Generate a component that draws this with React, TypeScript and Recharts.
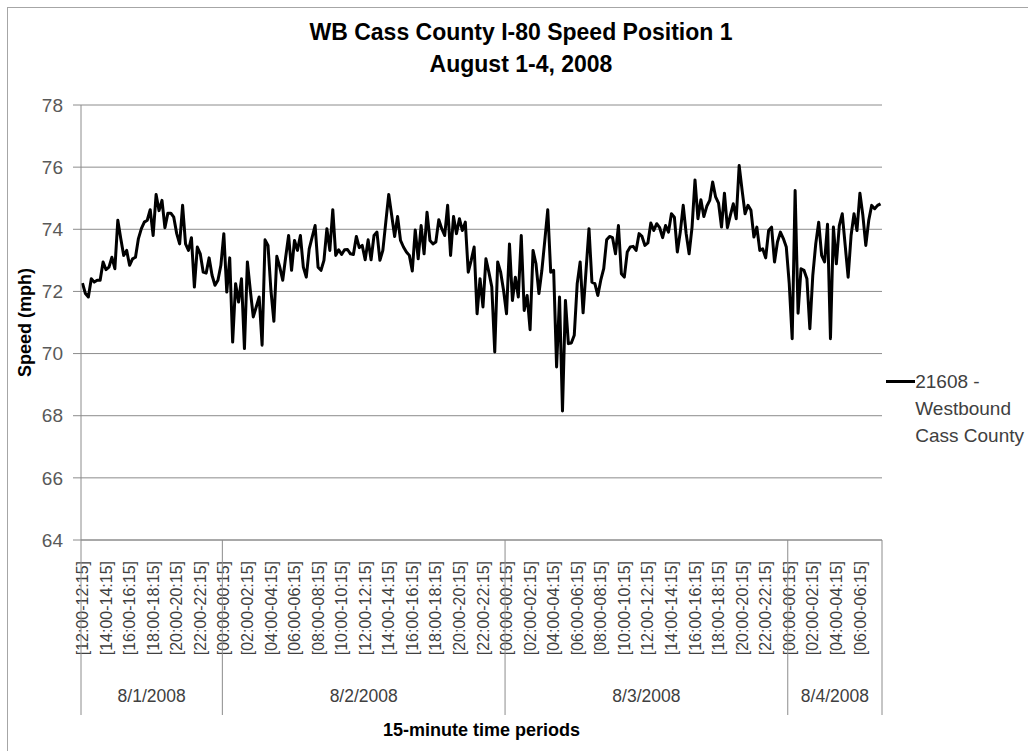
import { LineChart, Line, XAxis, YAxis, CartesianGrid, Legend } from 'recharts'

const dates = ['8/1/2008', '8/2/2008', '8/3/2008', '8/4/2008']
const dayStartHours = [12, 0, 0, 0]

// average speed (mph) per 15-minute period, one array per day
const aug1 = [
  72.27, 71.93, 71.82, 72.41, 72.3, 72.36, 72.36, 72.95, 72.7, 72.78,
  73.1, 72.73, 74.29, 73.7, 73.16, 73.32, 72.84, 73.05, 73.1, 73.7,
  74.02, 74.23, 74.29, 74.63, 73.8, 75.12, 74.6, 74.93, 74.05, 74.52,
  74.52, 74.39, 73.86, 73.53, 74.77, 73.53, 73.32, 73.73, 72.14, 73.43,
  73.21, 72.62, 72.59, 73.08, 72.52, 72.2, 72.36, 72.84,
]
const aug2 = [
  73.86, 71.98, 73.08, 70.37, 72.25, 71.66, 72.41, 70.16, 72.95, 72.03,
  71.18, 71.5, 71.82, 70.27, 73.66, 73.48, 72.03, 71.04, 73.13, 72.78,
  72.36, 73.1, 73.8, 72.68, 73.64, 73.32, 73.8, 72.78, 72.46, 73.37,
  73.75, 74.12, 72.78, 72.68, 73.0, 74.02, 73.32, 74.63, 73.16, 73.34,
  73.19, 73.34, 73.35, 73.21, 73.19, 73.77, 73.41, 73.48, 73.02, 73.66,
  73.02, 73.8, 73.91, 73.0, 73.32, 74.23, 75.12, 74.45, 73.77, 74.41,
  73.64, 73.43, 73.27, 73.16, 72.66, 73.98, 73.05, 74.12, 73.21, 74.55,
  73.64, 73.53, 73.59, 74.31, 74.02, 73.8, 74.77, 73.16, 74.41, 73.86,
  74.34, 73.96, 74.23, 72.62, 73.0, 73.43, 71.28, 72.41, 71.5, 73.05,
  72.62, 72.14, 70.05, 72.95, 72.62, 72.03,
]
const aug3 = [
  71.28, 73.53, 71.71, 72.46, 71.82, 73.8, 71.39, 71.87, 70.77, 73.32,
  72.89, 71.93, 72.68, 73.64, 74.63, 72.62, 72.68, 69.57, 71.82, 68.15,
  71.71, 70.32, 70.34, 70.59, 72.25, 72.95, 71.31, 72.68, 74.02, 72.3,
  72.25, 71.87, 72.36, 72.73, 73.66, 73.77, 73.73, 73.21, 74.12, 72.57,
  72.46, 73.27, 73.43, 73.45, 73.32, 73.86, 73.77, 73.48, 73.56, 74.2,
  73.96, 74.18, 74.05, 73.73, 74.12, 73.91, 74.5, 74.39, 73.27, 73.91,
  74.77, 73.86, 73.21, 74.07, 75.59, 74.34, 74.95, 74.41, 74.74, 74.93,
  75.52, 75.04, 74.84, 74.07, 75.16, 74.05, 74.45, 74.82, 74.34, 76.05,
  75.25, 74.5, 74.77, 74.61, 73.75, 74.07, 73.32, 73.37, 73.08, 73.96,
  74.07, 72.95, 73.59, 73.91, 73.7, 73.43,
]
const aug4 = [
  72.25, 70.48, 75.25, 71.3, 72.73, 72.68, 72.41, 70.8, 72.52, 73.53,
  74.23, 73.16, 72.95, 74.16, 70.48, 74.07, 72.89, 74.12, 74.5, 73.48,
  72.46, 73.8, 74.5, 73.96, 75.16, 74.45, 73.48, 74.29, 74.77, 74.66,
  74.77, 74.82,
]

const speedTicks = [64, 66, 68, 70, 72, 74, 76, 78]
const legendLines = ['21608 -', 'Westbound', 'Cass County']
const titleLines = ['WB Cass County I-80 Speed Position 1', 'August 1-4, 2008']

const pad = (n: number) => String(n).padStart(2, '0')
const periodLabel = (startHour: number, i: number) => {
  const a = startHour * 60 + i * 15
  const b = (a + 15) % 1440
  return `[${pad(Math.floor(a / 60))}:${pad(a % 60)}-${pad(Math.floor(b / 60))}:${pad(b % 60)}]`
}

const days = [aug1, aug2, aug3, aug4]
const data = days.flatMap((values, d) =>
  values.map((speed, i) => ({
    date: dates[d],
    period: periodLabel(dayStartHours[d], i),
    first: i === 0,
    mid: i === Math.floor(values.length / 2),
    speed,
  }))
).map((row, slot) => ({ ...row, slot }))

const GRAY = '#8c8c8c'
const TEXT = '#404040'

function PeriodTick(props: any) {
  const { x, y, payload } = props
  const slot = payload.value
  const row = data[slot]
  if (!row) return <g />
  const half = typeof payload.offset === 'number' && payload.offset > 0 ? payload.offset : 1.47
  const ty = y + 21
  return (
    <g>
      {slot % 8 === 0 && (
        <text
          x={x}
          y={ty}
          dy="0.35em"
          textAnchor="end"
          transform={`rotate(-90 ${x} ${ty})`}
          fontSize={16}
          fill={TEXT}
        >
          {row.period}
        </text>
      )}
      {row.first && <line x1={x - half} x2={x - half} y1={y} y2={y + 175} stroke={GRAY} />}
      {slot === data.length - 1 && (
        <line x1={x + half} x2={x + half} y1={y} y2={y + 175} stroke={GRAY} />
      )}
      {row.mid && (
        <text x={x - half} y={y + 156} dy="0.35em" textAnchor="middle" fontSize={17.5} fill={TEXT}>
          {row.date}
        </text>
      )}
    </g>
  )
}

function LegendBox() {
  return (
    <div style={{ display: 'flex', alignItems: 'flex-start', whiteSpace: 'nowrap' }}>
      <svg width={34} height={27}>
        <line x1={2} x2={33} y1={13.5} y2={13.5} stroke="#000" strokeWidth={3} />
      </svg>
      <div style={{ fontSize: 19, lineHeight: '27px', color: TEXT }}>
        {legendLines.map((l) => (
          <div key={l}>{l}</div>
        ))}
      </div>
    </div>
  )
}

export default function App() {
  return (
    <div
      style={{
        position: 'absolute',
        left: 0,
        top: 0,
        width: 1028,
        height: 751,
        background: '#fff',
        fontFamily: "'Liberation Sans', Arial, sans-serif",
        overflow: 'hidden',
      }}
    >
      <div
        style={{
          position: 'absolute',
          left: 7,
          top: 7,
          width: 1021,
          height: 744,
          borderLeft: '1px solid #a6a6a6',
          borderTop: '1px solid #a6a6a6',
          boxSizing: 'border-box',
        }}
      />
      <div
        style={{
          position: 'absolute',
          left: 221,
          top: 16,
          width: 600,
          textAlign: 'center',
          fontSize: 23,
          fontWeight: 'bold',
          lineHeight: '32px',
          color: '#000',
        }}
      >
        {titleLines.map((t) => (
          <div key={t}>{t}</div>
        ))}
      </div>
      <LineChart
        width={1028}
        height={751}
        data={data}
        margin={{ top: 105, right: 146, bottom: 36, left: 0 }}
      >
        <CartesianGrid vertical={false} stroke={GRAY} />
        <XAxis
          dataKey="slot"
          type="category"
          scale="band"
          interval={0}
          height={175}
          tickSize={0}
          tickMargin={0}
          tickLine={false}
          axisLine={{ stroke: GRAY }}
          tick={<PeriodTick />}
          label={({ viewBox }: any) => (
            <text
              x={viewBox.x + viewBox.width / 2}
              y={viewBox.y + 190}
              dy="0.35em"
              textAnchor="middle"
              fontSize={18}
              fontWeight="bold"
              fill="#000"
            >
              15-minute time periods
            </text>
          )}
        />
        <YAxis
          type="number"
          domain={[64, 78]}
          ticks={speedTicks}
          interval={0}
          width={81}
          tickSize={8}
          tickMargin={10}
          tickLine={{ stroke: GRAY }}
          axisLine={{ stroke: GRAY }}
          tick={{ fontSize: 19, fill: '#595959' }}
          label={({ viewBox }: any) => {
            const cx = viewBox.x + 25
            const cy = viewBox.y + viewBox.height / 2
            return (
              <text
                x={cx}
                y={cy}
                dy="0.35em"
                textAnchor="middle"
                transform={`rotate(-90 ${cx} ${cy})`}
                fontSize={18}
                fontWeight="bold"
                fill="#000"
              >
                Speed (mph)
              </text>
            )
          }}
        />
        <Legend
          layout="horizontal"
          verticalAlign="middle"
          align="center"
          wrapperStyle={{ left: 884, top: 368, width: 140 }}
          content={() => <LegendBox />}
        />
        <Line
          type="linear"
          dataKey="speed"
          name={legendLines.join(' ')}
          stroke="#000"
          strokeWidth={3}
          strokeLinejoin="round"
          dot={false}
          activeDot={false}
          isAnimationActive={false}
        />
      </LineChart>
    </div>
  )
}
